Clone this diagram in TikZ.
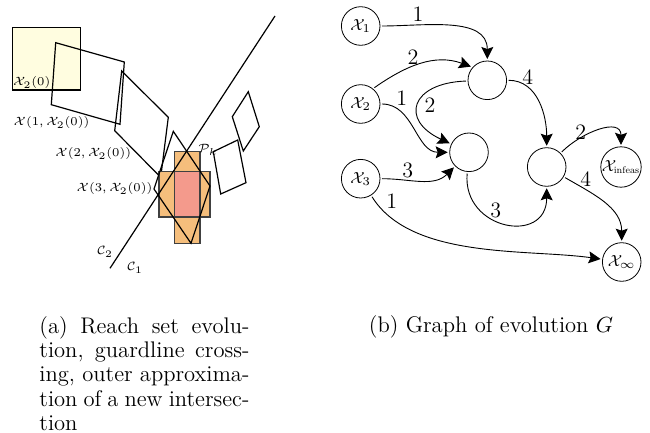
\documentclass[tikz,border=0pt]{standalone}
\usetikzlibrary{arrows.meta}
\definecolor{seedyellow}{HTML}{FFFDE0}
\definecolor{boxorange}{HTML}{F5BE7C}
\definecolor{boxred}{HTML}{F49A8C}
\tikzset{
  statenode/.style={draw, circle, minimum size=19.3pt, inner sep=0pt, outer sep=1pt, font=\footnotesize},
  flow/.style={-{Stealth[length=6pt,width=6pt,inset=1pt]}, line width=0.45pt},
  setpoly/.style={draw, line width=0.6pt, line join=miter},
  setlabel/.style={font=\fontsize{6.2}{8}\selectfont, inner sep=0pt},
  weight/.style={inner sep=0pt, font=\fontsize{11}{13}\selectfont},
  captext/.style={inner sep=0pt, font=\fontsize{11.3}{12.15}\selectfont},
}
\begin{document}
\begin{tikzpicture}[x=0.5pt, y=-0.5pt]
\useasboundingbox (0,0) rectangle (650,433);
% reach sets
\fill[setpoly, fill=seedyellow] (12.3,27.3) rectangle (80.3,90);
\draw[setpoly] (55.7,42.7) -- (124.3,62) -- (120,124.3) -- (51.3,104.7) -- cycle;
\draw[setpoly] (121.7,71) -- (168.3,117.3) -- (160.7,177.3) -- (114.7,130.7) -- cycle;
\fill[setpoly, fill=boxorange, draw=black!75] (174.3,151.7) rectangle (200,243.3);
\fill[setpoly, fill=boxorange, draw=black!75] (159,171.7) rectangle (210,217);
\fill[setpoly, fill=boxred, draw=black!75] (174.3,171.7) rectangle (200,217);
\draw[setpoly] (173.3,131.3) -- (210,186) -- (191,243.3) -- (154,189) -- cycle;
\draw[setpoly] (248.3,91.7) -- (259.3,126.7) -- (243.3,151) -- (232.3,116.7) -- cycle;
\draw[setpoly] (213.3,151.7) -- (237.7,140) -- (246,182.7) -- (220.7,194) -- cycle;
% guard lines
\coordinate (guardlow) at (110,268.3);
\coordinate (guardhigh) at (275,16);
\draw[line width=0.6pt] (guardlow) -- (guardhigh);
\node[setlabel] (initlabel) at (31.7,83) {$\mathcal{X}_2(0)$};
\node[setlabel] (reachone) at (51.5,123) {$\mathcal{X}(1,\mathcal{X}_2(0))$};
\node[setlabel] (reachtwo) at (93.3,154) {$\mathcal{X}(2,\mathcal{X}_2(0))$};
\node[setlabel] (reachthree) at (114.5,189) {$\mathcal{X}(3,\mathcal{X}_2(0))$};
\node[setlabel] (polylabel) at (208,150) {$\mathcal{P}_k$};
\node[setlabel] (guardtwo) at (105,252) {$\mathcal{C}_2$};
\node[setlabel] (guardone) at (135,268) {$\mathcal{C}_1$};
% graph
\node[statenode] (xone) at (360.7,26) {$\mathcal{X}_1$};
\node[statenode] (xtwo) at (360.7,104) {$\mathcal{X}_2$};
\node[statenode] (xthree) at (360.7,178.7) {$\mathcal{X}_3$};
\node[statenode] (mida) at (487.3,80.3) {};
\node[statenode] (midb) at (469,152.3) {};
\node[statenode] (midc) at (546.7,167) {};
\node[statenode] (infeas) at (621,167) {$\mathcal{X}_{\scalebox{0.6}{\rm infeas}}$};
\node[statenode] (infty) at (621.7,262) {$\mathcal{X}_\infty$};
\draw[flow] (xone) to[out=0, in=90] (mida);
\draw[flow] (xtwo.50) to[out=35, in=160] (mida.140);
\draw[flow] (xtwo) to[out=0, in=180] (midb);
\draw[flow] (mida) to[out=182, in=155, looseness=2.2] (midb);
\draw[flow] (mida) to[out=0, in=90] (midc);
\draw[flow] (midb) to[out=265, in=270, looseness=1.8] (midc);
\draw[flow] (xthree) to[out=0, in=225] (midb);
\draw[flow] (xthree) to[out=-58, in=172, looseness=0.8] (infty);
\draw[flow] (midc) to[out=45, in=90, looseness=1.2] (infeas);
\draw[flow] (midc) to[out=-30, in=90] (infty);
\node[weight] (wone) at (418,14) {1};
\node[weight] (wtwo) at (413,57) {2};
\node[weight] (wthree) at (401.7,98) {1};
\node[weight] (wfour) at (430,105) {2};
\node[weight] (wfive) at (527.7,77) {4};
\node[weight] (wsix) at (580.7,132) {2};
\node[weight] (wseven) at (407.7,170) {3};
\node[weight] (weight) at (391.7,200.7) {1};
\node[weight] (wnine) at (495.7,210) {3};
\node[weight] (wten) at (585.7,179) {4};
% captions
\node[captext, anchor=north west, text width=105pt, align=justify] (capa) at (39,316) {(a) Reach set evolu-\linebreak tion, guardline cross-\linebreak ing, outer approxima-\linebreak tion of a new intersec-\linebreak tion};
\node[captext, anchor=base] (capb) at (491,333) {(b) Graph of evolution $G$};
\end{tikzpicture}
\end{document}
